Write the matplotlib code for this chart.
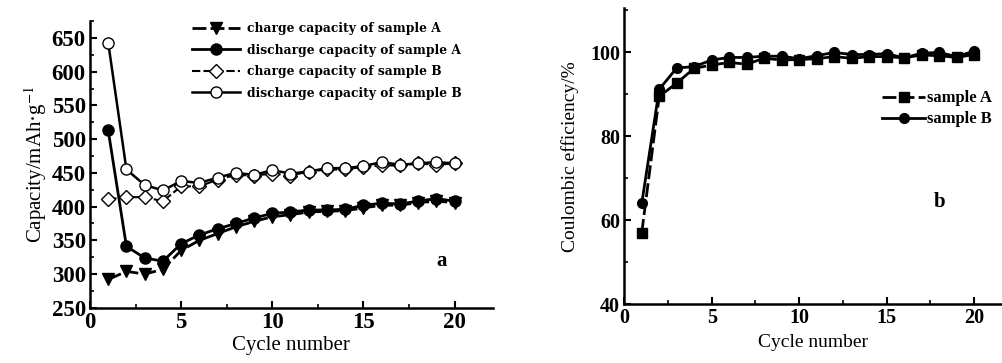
import matplotlib
matplotlib.use("Agg")
import matplotlib.pyplot as plt
from matplotlib.ticker import MultipleLocator

plt.rcParams['font.family'] = ['Liberation Serif', 'DejaVu Serif']
plt.rcParams['mathtext.fontset'] = 'stix'

cycles = list(range(1, 21))

# panel a: capacity (mAh/g)
charge_A = [292, 304, 300, 307, 335, 350, 360, 370, 378, 385,
            388, 392, 393, 394, 398, 402, 402, 406, 408, 406]
discharge_A = [513, 341, 324, 319, 345, 358, 367, 375, 383, 390,
               392, 395, 395, 396, 402, 405, 404, 408, 412, 408]
charge_B = [411, 414, 414, 408, 430, 430, 440, 447, 446, 449,
            446, 452, 455, 455, 459, 461, 461, 464, 462, 464]
discharge_B = [643, 455, 432, 424, 438, 435, 443, 450, 447, 454,
               449, 452, 457, 457, 460, 466, 462, 464, 466, 464]

# panel b: coulombic efficiency (%)
eff_A = [57, 89.5, 92.7, 96.2, 97.0, 97.6, 97.2, 98.6, 98.2, 98.3,
         98.5, 99.0, 98.6, 99.0, 99.0, 98.7, 99.4, 99.2, 98.8, 99.5]
eff_B = [64, 91.2, 96.3, 96.6, 98.2, 98.8, 98.8, 99.1, 99.1, 98.5,
         99.2, 100.0, 99.5, 99.5, 99.7, 98.7, 99.8, 100.0, 99.0, 100.3]

fig = plt.figure(figsize=(10.02, 3.63), dpi=100)

# ---- panel a ----
ax1 = fig.add_axes([0.0898, 0.152, 0.402, 0.79])
ax1.plot(cycles, charge_A, color='black', lw=2, ls=(0, (5, 1.5)), marker='v',
         ms=8, label='charge capacity of sample A')
ax1.plot(cycles, discharge_A, color='black', lw=2, ls='-', marker='o',
         ms=8, label='discharge capacity of sample A')
ax1.plot(cycles, charge_B, color='black', lw=1.5, ls=(0, (4, 1.5)), marker='D',
         ms=7, mfc='white', label='charge capacity of sample B')
ax1.plot(cycles, discharge_B, color='black', lw=1.8, ls='-', marker='o',
         ms=8, mfc='white', label='discharge capacity of sample B')
ax1.set_xlim(0, 22.1)
ax1.set_ylim(250, 675)
ax1.xaxis.set_major_locator(MultipleLocator(5))
ax1.xaxis.set_minor_locator(MultipleLocator(2.5))
ax1.yaxis.set_major_locator(MultipleLocator(50))
ax1.yaxis.set_minor_locator(MultipleLocator(25))
ax1.set_xlabel('Cycle number', fontsize=15, labelpad=2)
ax1.set_ylabel('Capacity/mAh·g$^{-1}$', fontsize=15, labelpad=2)
ax1.text(0.86, 0.145, 'a', transform=ax1.transAxes, fontsize=15,
         fontweight='bold')
ax1.legend(loc='upper left', bbox_to_anchor=(0.225, 1.035), frameon=False,
           prop=dict(family='DejaVu Serif', size=8.8, weight='bold'),
           handlelength=4, handletextpad=0.5, labelspacing=0.7)

# ---- panel b ----
ax2 = fig.add_axes([0.623, 0.162, 0.377, 0.815])
ax2.plot(cycles, eff_A, color='black', lw=2, ls=(0, (5, 1.5)), marker='s',
         ms=7, label='sample A')
ax2.plot(cycles, eff_B, color='black', lw=2, ls='-', marker='o',
         ms=7, label='sample B')
ax2.set_xlim(0, 21.6)
ax2.set_ylim(40, 110.5)
ax2.xaxis.set_major_locator(MultipleLocator(5))
ax2.xaxis.set_minor_locator(MultipleLocator(2.5))
ax2.yaxis.set_major_locator(MultipleLocator(20))
ax2.yaxis.set_minor_locator(MultipleLocator(10))
ax2.set_xlabel('Cycle number', fontsize=14, labelpad=4)
ax2.set_ylabel('Coulombic efficiency/%', fontsize=14, labelpad=8)
ax2.text(0.82, 0.33, 'b', transform=ax2.transAxes, fontsize=15,
         fontweight='bold')
ax2.legend(loc='upper left', bbox_to_anchor=(0.665, 0.745), frameon=False,
           prop=dict(size=12, weight='bold'), handlelength=2.6,
           handletextpad=0.1, labelspacing=0.3, borderaxespad=0)

for ax, fs in ((ax1, 16.5), (ax2, 14.5)):
    for side in ('top', 'right'):
        ax.spines[side].set_visible(False)
    for side in ('left', 'bottom'):
        ax.spines[side].set_linewidth(1.8)
    ax.tick_params(which='major', direction='in', length=5, width=1.5,
                   labelsize=fs, pad=3)
    ax.tick_params(which='minor', direction='in', length=3, width=1.2)
    for lbl in ax.get_xticklabels() + ax.get_yticklabels():
        lbl.set_fontweight('bold')

fig.savefig('out.png', dpi=100)
